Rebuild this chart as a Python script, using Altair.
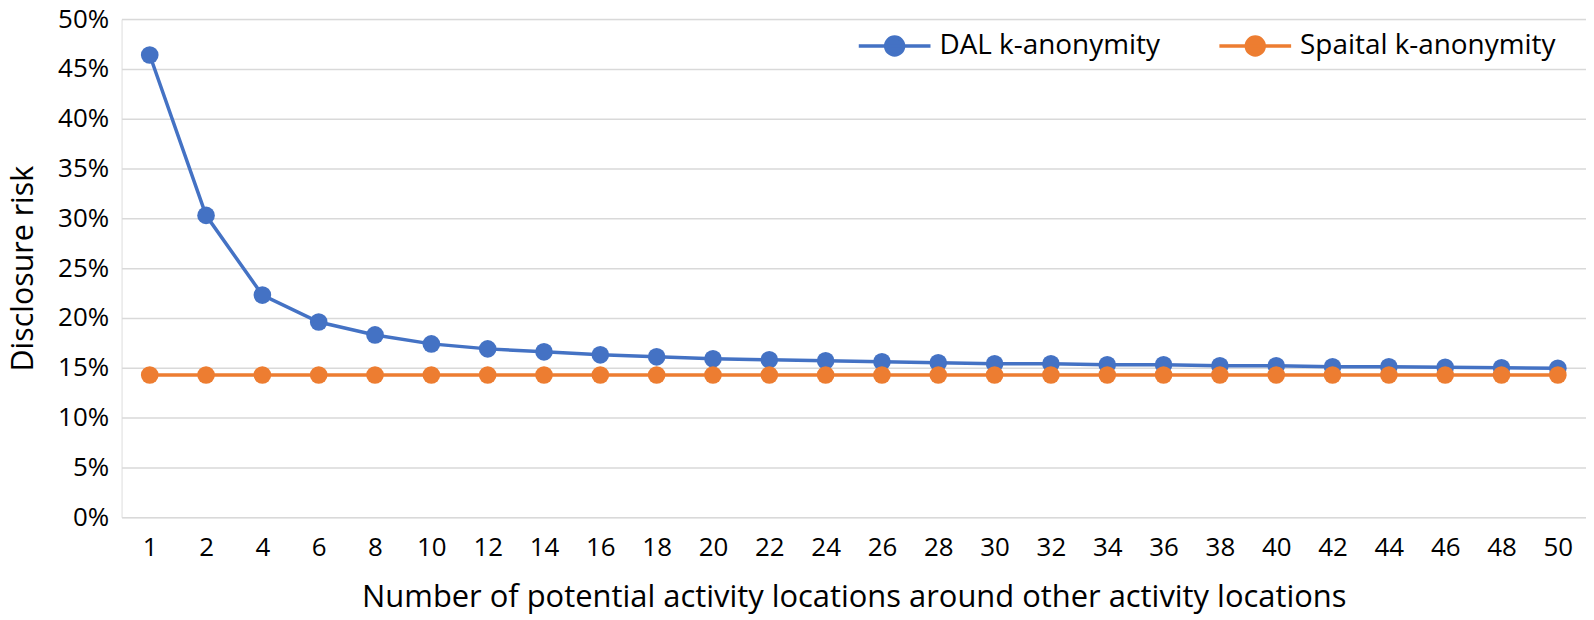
import altair as alt
import pandas as pd

categories = [1, 2, 4, 6, 8, 10, 12, 14, 16, 18, 20, 22, 24, 26, 28, 30, 32, 34, 36, 38, 40, 42, 44, 46, 48, 50]
dal_values = [46.4, 30.3, 22.3, 19.6, 18.3, 17.4, 16.9, 16.6, 16.3, 16.1, 15.9, 15.8, 15.7,
              15.6, 15.5, 15.4, 15.4, 15.3, 15.3, 15.2, 15.2, 15.1, 15.1, 15.05, 15.0, 14.95]
spatial_values = [14.28, 14.28, 14.28, 14.28, 14.28, 14.28, 14.28, 14.28, 14.28, 14.28, 14.28, 14.28, 14.28,
                  14.28, 14.28, 14.28, 14.28, 14.28, 14.28, 14.28, 14.28, 14.28, 14.28, 14.28, 14.28, 14.28]
series_names = ["DAL k-anonymity", "Spaital k-anonymity"]
series_colors = ["#4472C4", "#ED7D31"]
y_ticks = [0, 5, 10, 15, 20, 25, 30, 35, 40, 45, 50]

rows = []
for c, v in zip(categories, dal_values):
    rows.append({"k": c, "risk": v, "series": series_names[0]})
for c, v in zip(categories, spatial_values):
    rows.append({"k": c, "risk": v, "series": series_names[1]})
df = pd.DataFrame(rows)

FONT = "Open Sans"
legend_path = "M-1,0L1,0M0.25,0A0.25,0.25,0,1,1,-0.25,0A0.25,0.25,0,1,1,0.25,0Z"

x_enc = alt.X("k:O", sort=categories, scale=alt.Scale(padding=0.5),
              axis=alt.Axis(title="Number of potential activity locations around other activity locations",
                            labelAngle=0, labelPadding=17, ticks=False, domain=False, grid=False,
                            labelFont=FONT, labelFontSize=26, labelColor="#000000",
                            titleFont=FONT, titleFontSize=31, titleFontWeight="normal",
                            titleColor="#000000", titlePadding=23))
y_enc = alt.Y("risk:Q", scale=alt.Scale(domain=[0, 50], nice=False),
              axis=alt.Axis(title="Disclosure risk", values=y_ticks, labelExpr="datum.value + '%'",
                            ticks=False, domain=False, grid=True, gridColor="#D9D9D9", gridWidth=1.5,
                            labelPadding=13, labelFont=FONT, labelFontSize=26, labelColor="#000000",
                            titleFont=FONT, titleFontSize=30.5, titleFontWeight="normal",
                            titleColor="#000000", titlePadding=19))


def make_legend():
    return alt.Legend(
        title=None, orient="none", legendX=738, legendY=-11, direction="horizontal",
        symbolType=legend_path, symbolSize=5184, symbolStrokeWidth=3.5, symbolOpacity=1,
        labelFont=FONT, labelFontSize=28, labelColor="#000000", labelOffset=7, labelLimit=400,
        columnPadding=52,
    )


stroke_scale = alt.Scale(domain=series_names, range=series_colors)
fill_scale = alt.Scale(domain=series_names, range=series_colors)

layers = []
for name in series_names:
    base = alt.Chart(df).transform_filter(alt.datum.series == name)
    line = base.mark_line(strokeWidth=3.5).encode(
        x=x_enc, y=y_enc,
        stroke=alt.Stroke("series:N", scale=stroke_scale, legend=make_legend()))
    pts = base.mark_point(filled=True, size=314, opacity=1, strokeWidth=0).encode(
        x=x_enc, y=y_enc,
        fill=alt.Fill("series:N", scale=fill_scale, legend=make_legend()),
        stroke=alt.Stroke("series:N", scale=stroke_scale, legend=make_legend()))
    layers += [line, pts]

chart = alt.layer(*layers).properties(
    width=1470, height=500,
    autosize=alt.AutoSizeParams(type="none"),
    padding={"left": 114, "top": 10, "right": 0, "bottom": 102},
).configure_view(stroke=None).configure(background="white")

chart.save("out.html", embed_options={"renderer": "svg", "actions": False})
